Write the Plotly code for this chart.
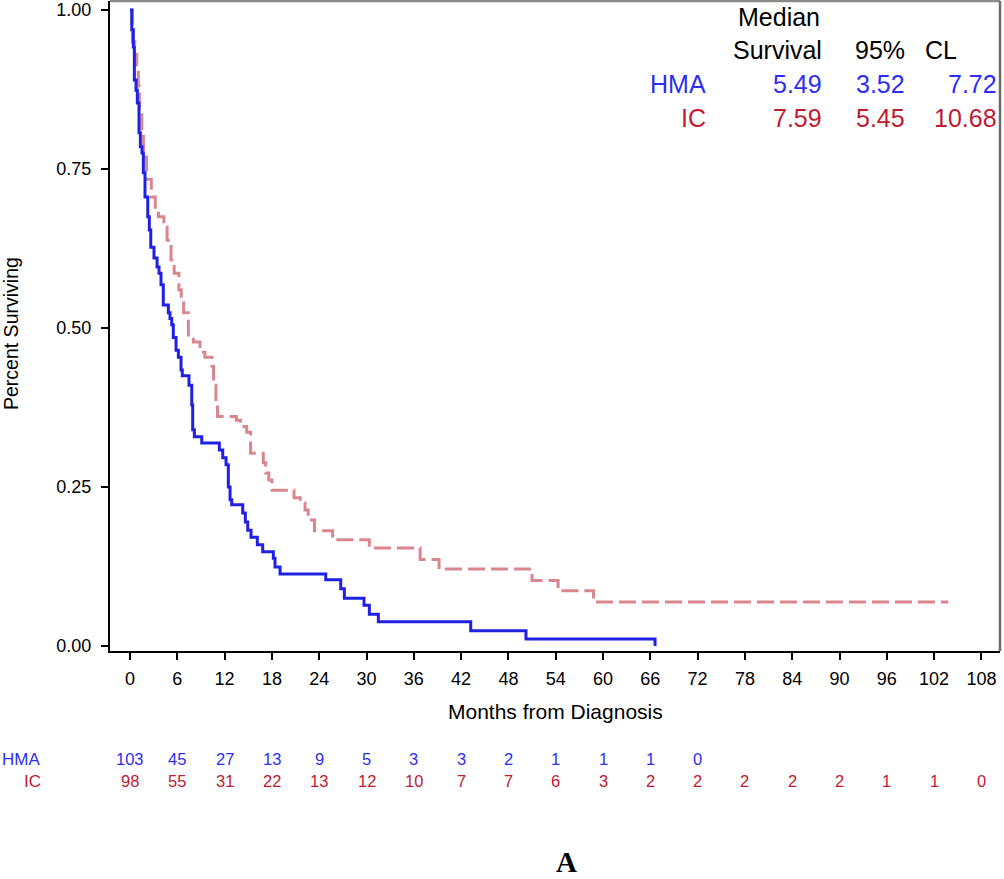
import plotly.graph_objects as go

# ---- Data ----
hma_t = [0, 0.22, 0.42, 0.55, 0.76, 0.93, 1.14, 1.31, 1.52, 1.69, 1.90, 2.25, 2.45, 2.63,
         3.04, 3.43, 3.68, 3.93, 4.22, 4.86, 5.07, 5.29, 5.49, 5.84, 6.13, 6.47, 6.63,
         7.48, 7.83, 7.95, 8.16, 9.10, 11.33, 11.76, 12.18, 12.47, 12.69, 12.90, 14.30,
         14.63, 14.93, 15.35, 16.15, 16.83, 18.18, 18.39, 19.03, 24.83, 26.73, 27.19,
         29.68, 30.36, 31.50, 43.22, 50.23, 66.6]
hma_s = [1.0, 0.969, 0.942, 0.890, 0.874, 0.854, 0.807, 0.785, 0.775, 0.744, 0.706, 0.675,
         0.654, 0.627, 0.610, 0.596, 0.586, 0.568, 0.536, 0.524, 0.515, 0.505, 0.485, 0.465,
         0.454, 0.434, 0.425, 0.410, 0.379, 0.340, 0.329, 0.319, 0.308, 0.296, 0.285, 0.250,
         0.230, 0.222, 0.209, 0.195, 0.182, 0.171, 0.159, 0.148, 0.138, 0.124, 0.113, 0.104,
         0.090, 0.075, 0.064, 0.050, 0.038, 0.024, 0.011, 0.0]

ic_t = [0, 0.3, 0.6, 0.85, 1.05, 1.2, 1.5, 1.7, 2.1, 2.7, 3.2, 3.6, 4.3, 4.7, 5.2, 5.6, 6.2,
        6.5, 6.8, 7.4, 8.03, 8.88, 9.5, 10.4, 10.6, 10.9, 11.1, 13.5, 14.0, 14.8, 15.3, 16.9,
        17.2, 17.6, 18.0, 20.8, 21.6, 22.2, 22.6, 23.4, 25.7, 30.36, 36.8, 39.2, 51.0, 54.3,
        58.8, 103.8]
ic_s = [1.0, 0.95, 0.93, 0.913, 0.88, 0.843, 0.807, 0.769, 0.734, 0.706, 0.690, 0.675, 0.659,
        0.638, 0.607, 0.586, 0.560, 0.544, 0.524, 0.489, 0.478, 0.462, 0.454, 0.44, 0.41, 0.38,
        0.361, 0.355, 0.345, 0.336, 0.303, 0.288, 0.272, 0.261, 0.245, 0.233, 0.225, 0.214,
        0.198, 0.181, 0.167, 0.154, 0.136, 0.121, 0.103, 0.087, 0.069, 0.069]

x_ticks = list(range(0, 109, 6))
y_ticks = [0.0, 0.25, 0.50, 0.75, 1.00]
y_tick_labels = ["0.00", "0.25", "0.50", "0.75", "1.00"]

risk_t_hma = list(range(0, 73, 6))
hma_risk = [103, 45, 27, 13, 9, 5, 3, 3, 2, 1, 1, 1, 0]
risk_t_ic = list(range(0, 109, 6))
ic_risk = [98, 55, 31, 22, 13, 12, 10, 7, 7, 6, 3, 2, 2, 2, 2, 2, 1, 1, 0]

groups = ["HMA", "IC"]
median_surv = ["5.49", "7.59"]
ci_low = ["3.52", "5.45"]
ci_high = ["7.72", "10.68"]

# ---- Styles ----
FONT = "Liberation Sans, Arial, sans-serif"
BLUE_LINE = "#2020E4"
RED_LINE = "#D9868F"
BLUE_TXT = "#2E2EF2"
RED_TXT = "#C01A32"
txt_colors = [BLUE_TXT, RED_TXT]
TBL = 25

W, H = 1004, 879
L, R, T, B = 110, 4, 1, 228
PW, PH = W - L - R, H - T - B


def px(xp):
    return (xp - L) / PW


def py(yp):
    return (H - B - yp) / PH


fig = go.Figure()
fig.add_trace(go.Scatter(x=ic_t, y=ic_s, mode="lines", line_shape="hv",
                         line=dict(color=RED_LINE, width=3, dash="17px,6px"),
                         showlegend=False, hoverinfo="skip"))
fig.add_trace(go.Scatter(x=hma_t, y=hma_s, mode="lines", line_shape="hv",
                         line=dict(color=BLUE_LINE, width=3),
                         showlegend=False, hoverinfo="skip"))

ann = []
# Median table
ann.append(dict(text="Median", x=px(779), y=py(17), xanchor="center", yanchor="middle",
                font=dict(size=TBL, color="black")))
ann.append(dict(text="Survival", x=px(824), y=py(50), xanchor="right", yanchor="middle",
                font=dict(size=TBL, color="black")))
ann.append(dict(text="95%", x=px(907), y=py(50), xanchor="right", yanchor="middle",
                font=dict(size=TBL, color="black")))
ann.append(dict(text="CL", x=px(923), y=py(50), xanchor="left", yanchor="middle",
                font=dict(size=TBL, color="black")))
for i, g in enumerate(groups):
    yy = py(84 + 34 * i)
    c = txt_colors[i]
    ann.append(dict(text=g, x=px(708), y=yy, xanchor="right", yanchor="middle",
                    font=dict(size=TBL, color=c)))
    ann.append(dict(text=median_surv[i], x=px(824), y=yy, xanchor="right", yanchor="middle",
                    font=dict(size=TBL, color=c)))
    ann.append(dict(text=ci_low[i], x=px(907), y=yy, xanchor="right", yanchor="middle",
                    font=dict(size=TBL, color=c)))
    ann.append(dict(text=ci_high[i], x=px(999), y=yy, xanchor="right", yanchor="middle",
                    font=dict(size=TBL, color=c)))

# Axis titles
ann.append(dict(text="Months from Diagnosis", x=px(555), y=py(711), xanchor="center",
                yanchor="middle", font=dict(size=21, color="black")))
ann.append(dict(text="Percent Surviving", x=px(11), y=py(334), xanchor="center",
                yanchor="middle", textangle=-90, font=dict(size=19.5, color="black")))

# Number at risk
ann.append(dict(text="HMA", x=px(0), y=py(759), xanchor="left", yanchor="middle",
                font=dict(size=17, color=BLUE_TXT)))
ann.append(dict(text="IC", x=px(43), y=py(781), xanchor="right", yanchor="middle",
                font=dict(size=17, color=RED_TXT)))
for t, n in zip(risk_t_hma, hma_risk):
    ann.append(dict(text=str(n), x=t, xref="x", y=py(759), xanchor="center",
                    yanchor="middle", font=dict(size=16.5, color=BLUE_TXT)))
for t, n in zip(risk_t_ic, ic_risk):
    ann.append(dict(text=str(n), x=t, xref="x", y=py(781), xanchor="center",
                    yanchor="middle", font=dict(size=16.5, color=RED_TXT)))

# Panel letter
ann.append(dict(text="<b>A</b>", x=px(566), y=py(862), xanchor="center", yanchor="middle",
                font=dict(size=29, color="black", family="Liberation Serif, Times New Roman, serif")))

for a in ann:
    a.setdefault("xref", "paper")
    a["yref"] = "paper"
    a["showarrow"] = False

fig.update_layout(
    width=W, height=H,
    margin=dict(l=L, r=R, t=T, b=B, pad=0),
    paper_bgcolor="white", plot_bgcolor="white",
    font=dict(family=FONT, size=18, color="black"),
    showlegend=False,
    annotations=ann,
    xaxis=dict(range=[-2.54, 110.36], tickvals=x_ticks, ticktext=[str(v) for v in x_ticks],
               showgrid=False, zeroline=False, showline=True, linecolor="black", linewidth=2,
               ticks="outside", ticklen=7, tickwidth=2, tickcolor="black",
               tickfont=dict(size=18, color="black"), ticklabelstandoff=3),
    yaxis=dict(range=[-0.0079, 1.0142], tickvals=y_ticks, ticktext=y_tick_labels,
               showgrid=False, zeroline=False, showline=True, linecolor="black", linewidth=2,
               ticks="outside", ticklen=7, tickwidth=2, tickcolor="black",
               tickfont=dict(size=18, color="black"), ticklabelstandoff=6),
    shapes=[
        dict(type="line", xref="paper", yref="paper", x0=0, x1=1, y0=1, y1=1,
             line=dict(color="#8a8a8a", width=2.5)),
        dict(type="line", xref="paper", yref="paper", x0=1, x1=1, y0=0, y1=1,
             line=dict(color="#6e6e6e", width=2.5)),
    ],
)

fig.write_html("out.html", config={"displayModeBar": False},
               post_script="document.body.style.margin='0px';document.body.style.overflow='hidden';")
